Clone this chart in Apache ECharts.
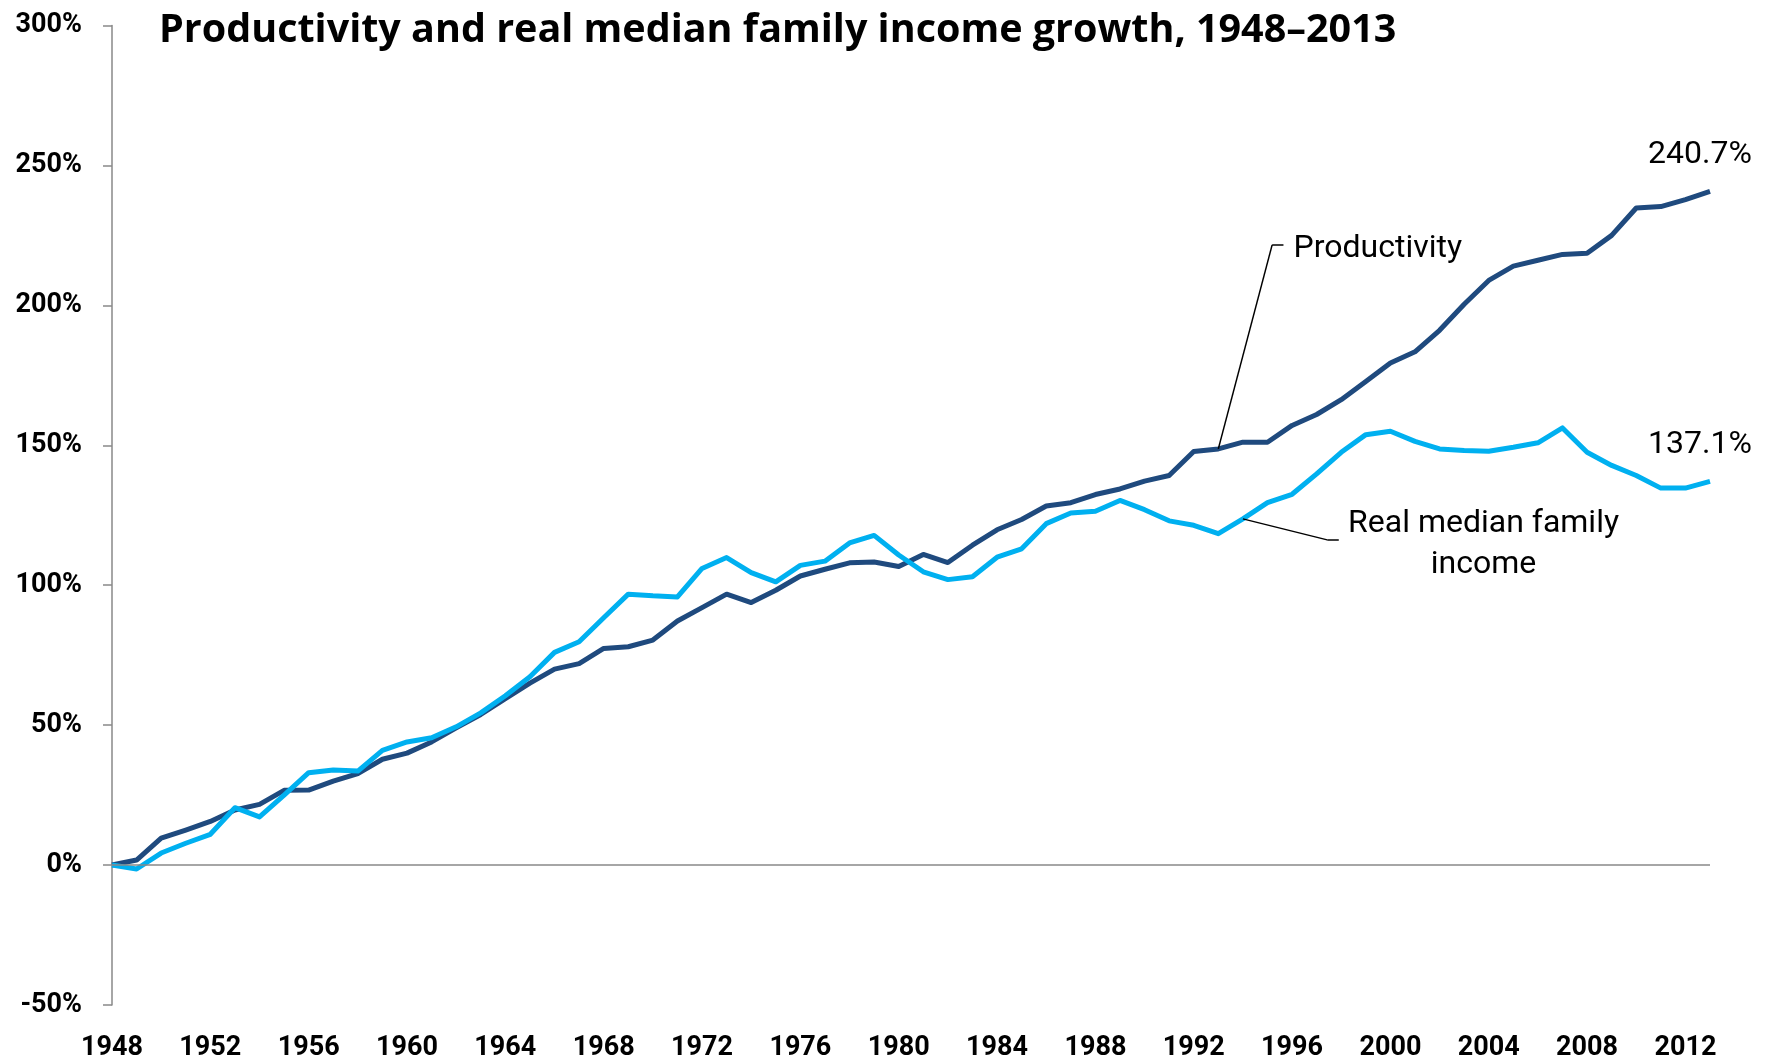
<!DOCTYPE html>
<html>
<head>
<meta charset="utf-8">
<script src="https://cdn.jsdelivr.net/npm/echarts@6/dist/echarts.min.js"></script>
<style>
html,body{margin:0;padding:0;background:#fff;}
#chart{width:1777px;height:1062px;}
</style>
</head>
<body>
<div id="chart"></div>
<script>
const years = [1948,1949,1950,1951,1952,1953,1954,1955,1956,1957,1958,1959,1960,1961,1962,1963,
  1964,1965,1966,1967,1968,1969,1970,1971,1972,1973,1974,1975,1976,1977,1978,1979,
  1980,1981,1982,1983,1984,1985,1986,1987,1988,1989,1990,1991,1992,1993,1994,1995,
  1996,1997,1998,1999,2000,2001,2002,2003,2004,2005,2006,2007,2008,2009,2010,2011,2012,2013];
const productivity = [0,1.8,9.6,12.5,15.6,19.7,21.7,26.7,26.8,30,32.7,37.8,40,44,49,53.8,
  59.5,65,70,72,77.4,78,80.4,87.2,92,96.8,93.8,98.2,103.3,105.7,108,108.3,
  106.7,111,108.1,114.3,119.8,123.5,128.3,129.5,132.4,134.4,137.2,139.2,147.8,148.7,151.1,151.1,
  157.1,161,166.3,172.8,179.4,183.4,191.1,200.4,208.9,214,216.1,218.2,218.6,225,234.8,235.3,237.8,240.7];
const income = [0,-1.4,4.3,7.8,11,20.5,17.2,25,33,34,33.6,41,44,45.5,49.4,54.4,
  60.5,67.3,76,79.8,88.4,96.8,96.2,95.8,106,109.9,104.5,101.2,107.1,108.6,115.1,117.8,
  110.8,104.8,102,103,110,113,122,125.8,126.4,130.3,127,123,121.4,118.4,123.7,129.5,
  132.5,139.8,147.5,153.8,155,151.4,148.7,148.1,147.9,149.3,150.9,156.2,147.5,142.8,139.2,134.7,134.7,137.1];
const yTicks = [-50,0,50,100,150,200,250,300];
const titleText = 'Productivity and real median family income growth, 1948\u20132013';
const seriesNames = ['Productivity', 'Real median family\nincome'];

const FONT = 'Roboto';
const last = years.length - 1;

function toPairs(vals) {
  return vals.map((v, i) => [years[i], v]);
}
function endMarkItem(vals) {
  return {
    coord: [years[last], vals[last]], value: vals[last],
    label: {show: true, position: 'top', distance: 20, offset: [-10, 0],
      fontFamily: FONT, fontSize: 32, color: '#000',
      formatter: p => Number(p.value).toFixed(1) + '%'}
  };
}
const leader = {color: '#000', width: 1.5, type: 'solid'};

const chart = echarts.init(document.getElementById('chart'), null, {renderer: 'canvas'});
chart.setOption({
  animation: false,
  backgroundColor: '#fff',
  title: {
    text: titleText,
    left: 154, top: 6,
    textStyle: {fontFamily: 'Open Sans', fontWeight: 'bold', fontSize: 39.5, color: '#000'}
  },
  grid: {left: 112, right: 67, top: 25.5, bottom: 54.5, containLabel: false},
  xAxis: {
    type: 'value', min: years[0], max: years[last], interval: 4,
    axisLine: {show: false, onZero: false},
    axisTick: {show: false},
    splitLine: {show: false},
    axisLabel: {
      margin: 30, color: '#000', fontFamily: FONT, fontWeight: 'bold', fontSize: 27,
      formatter: v => (v % 4 === 0 ? String(v) : ''), showMaxLabel: false
    }
  },
  yAxis: {
    type: 'value', min: yTicks[0], max: yTicks[yTicks.length - 1], interval: 50,
    axisLine: {show: true, lineStyle: {color: '#898989', width: 1.5}},
    axisTick: {show: true, inside: false, length: 9, lineStyle: {color: '#898989', width: 1.5}},
    splitLine: {show: false},
    axisLabel: {
      margin: 30, color: '#000', fontFamily: FONT, fontWeight: 'bold', fontSize: 27,
      formatter: '{value}%'
    }
  },
  series: [
    {
      name: seriesNames[0], type: 'line', showSymbol: false, symbol: 'none',
      data: toPairs(productivity),
      lineStyle: {color: '#1f4a7e', width: 5, join: 'round'},
      itemStyle: {color: '#1f4a7e'},
      z: 3,
      markLine: {
        silent: true, symbol: ['none', 'none'], label: {show: false},
        data: [
          {yAxis: 0, lineStyle: {color: '#898989', width: 1.5, type: 'solid'}},
          [{coord: [1993, 148.7], lineStyle: leader}, {coord: [1995.19, 221.6]}],
          [{coord: [1995.19, 221.6], lineStyle: leader}, {coord: [1995.65, 221.6]}],
          [{coord: [1994, 123.7], lineStyle: leader}, {coord: [1997.43, 116.2]}],
          [{coord: [1997.43, 116.2], lineStyle: leader}, {coord: [1997.9, 116.2]}]
        ]
      },
      markPoint: {
        silent: true, symbol: 'circle', symbolSize: 0,
        data: [
          {coord: [1996.06, 220.2], label: {show: true, position: 'right', distance: 0,
            formatter: seriesNames[0], fontFamily: FONT, fontSize: 32, color: '#000'}},
          {coord: [2003.79, 114.6], label: {show: true, position: 'inside', align: 'center',
            formatter: seriesNames[1], fontFamily: FONT, fontSize: 32, lineHeight: 41, color: '#000'}},
          endMarkItem(productivity)
        ]
      }
    },
    {
      name: seriesNames[1], type: 'line', showSymbol: false, symbol: 'none',
      data: toPairs(income),
      lineStyle: {color: '#00b0f0', width: 5, join: 'round'},
      itemStyle: {color: '#00b0f0'},
      z: 4,
      markPoint: {
        silent: true, symbol: 'circle', symbolSize: 0,
        data: [endMarkItem(income)]
      }
    }
  ]
});
</script>
</body>
</html>
